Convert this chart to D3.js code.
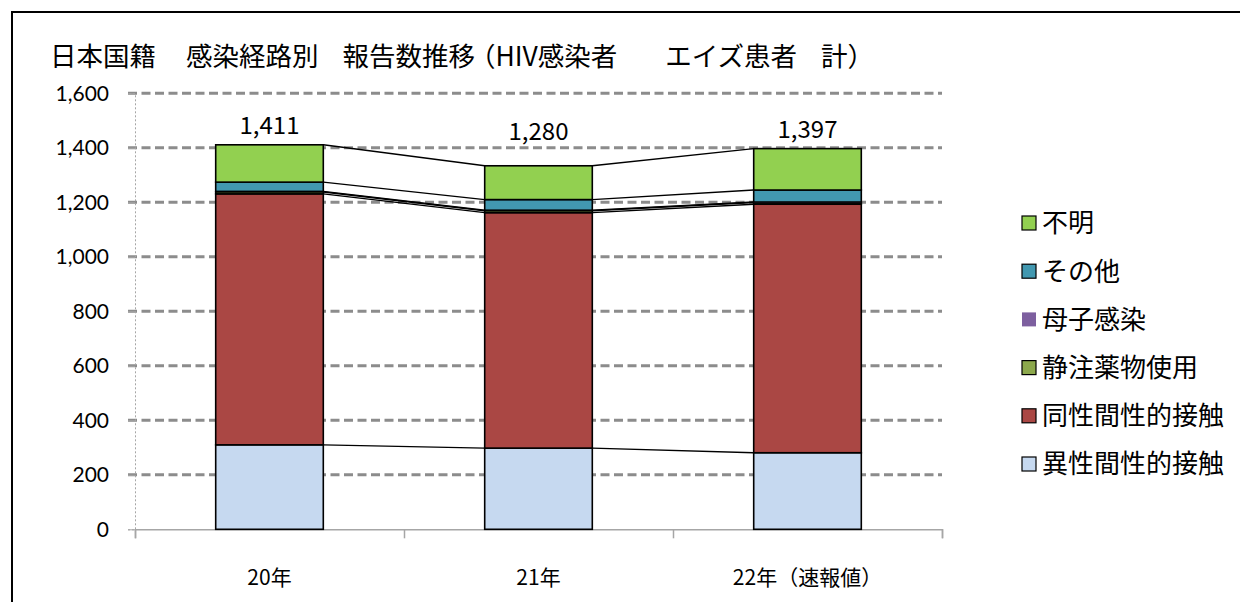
<!DOCTYPE html>
<html>
<head>
<meta charset="utf-8">
<script src="https://cdn.jsdelivr.net/npm/d3@7"></script>
<style>
  body { margin: 0; background: #fff; }
  svg { display: block; }
</style>
</head>
<body>
<svg id="chart" width="1240" height="602"></svg>
<script>
// data
const years = ['20年', '21年', '22年（速報値）'];
const hetero = [310, 298, 281];     // 異性間性的接触
const homo = [921, 864, 912];       // 同性間性的接触
const idu = [7, 7, 6];              // 静注薬物使用
const mother = [2, 2, 2];           // 母子感染
const other = [34, 39, 44];         // その他
const unknown = [137, 124, 152];    // 不明
const totalLabels = [1411, 1280, 1397];
const yTicks = [0, 200, 400, 600, 800, 1000, 1200, 1400, 1600];
const titleParts = ['日本国籍', '感染経路別', '報告数推移', '（HIV感染者', 'エイズ患者', '計）'];

const seriesInfo = [
  { key: 'hetero', name: '異性間性的接触', color: '#c6d9f0', values: hetero, stroke: true },
  { key: 'homo', name: '同性間性的接触', color: '#aa4744', values: homo, stroke: true },
  { key: 'idu', name: '静注薬物使用', color: '#8ca84c', values: idu, stroke: true },
  { key: 'mother', name: '母子感染', color: '#7d5f9f', values: mother, stroke: false },
  { key: 'other', name: 'その他', color: '#4298b0', values: other, stroke: true },
  { key: 'unknown', name: '不明', color: '#92d050', values: unknown, stroke: true }
];

const rows = years.map((yr, i) => {
  const r = { year: yr };
  seriesInfo.forEach(s => { r[s.key] = s.values[i]; });
  return r;
});

const stacked = d3.stack().keys(seriesInfo.map(s => s.key))(rows);

const svg = d3.select('#chart');
const fontJP = '"Noto Sans CJK JP", sans-serif';

// outer frame
svg.append('rect')
  .attr('x', 12).attr('y', 12)
  .attr('width', 1240).attr('height', 602)
  .attr('fill', 'none')
  .attr('stroke', '#000')
  .attr('stroke-width', 2);

// title, word gaps like the original
const gaps = [0, 30, 24, -6, 48, 24];
svg.append('text')
  .attr('x', 50).attr('y', 66)
  .style('font-family', fontJP)
  .style('font-size', '26.5px')
  .attr('fill', '#000')
  .selectAll('tspan')
  .data(titleParts)
  .join('tspan')
  .attr('dx', (d, i) => gaps[i])
  .text(d => d);

const plotLeft = 135, plotRight = 942, plotTop = 93.3, plotBottom = 529.3;

const x = d3.scaleBand()
  .domain(years)
  .range([plotLeft, plotRight])
  .paddingInner(0.6)
  .paddingOuter(0.3);

const y = d3.scaleLinear()
  .domain([0, 1600])
  .range([plotBottom, plotTop]);

// gridlines
svg.append('g')
  .selectAll('line')
  .data(yTicks.filter(d => d > 0))
  .join('line')
  .attr('x1', plotLeft - 7).attr('x2', plotRight)
  .attr('y1', d => y(d)).attr('y2', d => y(d))
  .attr('stroke', '#8c8c8c')
  .attr('stroke-width', 3)
  .attr('stroke-dasharray', '9,4.5');

// y axis
const yAxis = svg.append('g')
  .attr('transform', `translate(${plotLeft},0)`)
  .call(d3.axisLeft(y).tickValues(yTicks).tickFormat(d3.format(',')).tickSize(7).tickPadding(19));
yAxis.select('.domain')
  .attr('stroke', '#a6a6a6')
  .attr('stroke-dasharray', '2,2');
yAxis.selectAll('.tick line').attr('stroke', '#a6a6a6');
yAxis.selectAll('text')
  .style('font-family', 'Lato, "Open Sans", sans-serif')
  .style('font-size', '21px')
  .attr('fill', '#000');

// x axis
const xAxisScale = d3.scaleLinear().domain([0, years.length]).range([plotLeft, plotRight]);
const xAxis = svg.append('g')
  .attr('transform', `translate(0,${plotBottom})`)
  .call(d3.axisBottom(xAxisScale).tickValues(d3.range(years.length + 1)).tickSize(9).tickFormat(''));
xAxis.select('.domain').attr('stroke', '#a6a6a6').attr('stroke-width', 1.5);
xAxis.selectAll('.tick line').attr('stroke', '#a6a6a6').attr('stroke-width', 1.5);

svg.append('g')
  .selectAll('text')
  .data(years)
  .join('text')
  .attr('x', d => x(d) + x.bandwidth() / 2)
  .attr('y', 585)
  .attr('text-anchor', 'middle')
  .style('font-family', fontJP)
  .style('font-size', '21px')
  .attr('fill', '#000')
  .text(d => d);

// series lines between bars
const sLines = svg.append('g');
stacked.forEach(layer => {
  for (let i = 0; i < years.length - 1; i++) {
    sLines.append('line')
      .attr('x1', x(years[i]) + x.bandwidth())
      .attr('x2', x(years[i + 1]))
      .attr('y1', y(layer[i][1]))
      .attr('y2', y(layer[i + 1][1]))
      .attr('stroke', '#000')
      .attr('stroke-width', 1.4);
  }
});

// bars
svg.append('g')
  .selectAll('g')
  .data(stacked)
  .join('g')
  .attr('fill', (d, i) => seriesInfo[i].color)
  .attr('stroke', (d, i) => seriesInfo[i].stroke ? '#000' : 'none')
  .attr('stroke-width', 1.6)
  .selectAll('rect')
  .data(d => d)
  .join('rect')
  .attr('x', d => x(d.data.year))
  .attr('width', x.bandwidth())
  .attr('y', d => y(d[1]))
  .attr('height', d => y(d[0]) - y(d[1]));

// total labels
const tops = rows.map((r, i) => stacked[stacked.length - 1][i][1]);
svg.append('g')
  .selectAll('text')
  .data(totalLabels)
  .join('text')
  .attr('x', (d, i) => x(years[i]) + x.bandwidth() / 2)
  .attr('y', (d, i) => y(Math.max(tops[i], 1390)) - 11)
  .attr('text-anchor', 'middle')
  .style('font-family', fontJP)
  .style('font-size', '24px')
  .attr('fill', '#000')
  .text(d => d3.format(',')(d));

// legend
const legendItems = seriesInfo.slice().reverse();
const legend = svg.append('g')
  .selectAll('g')
  .data(legendItems)
  .join('g')
  .attr('transform', (d, i) => `translate(1022,${223 + i * 48.2})`);
legend.append('rect')
  .attr('x', 0).attr('y', -7)
  .attr('width', 14).attr('height', 14)
  .attr('fill', d => d.color)
  .attr('stroke', d => d.stroke ? '#000' : 'none')
  .attr('stroke-width', 1.2);
legend.append('text')
  .attr('x', 20).attr('y', 0)
  .attr('dy', '0.36em')
  .style('font-family', fontJP)
  .style('font-size', '26px')
  .attr('fill', '#000')
  .text(d => d.name);
</script>
</body>
</html>
